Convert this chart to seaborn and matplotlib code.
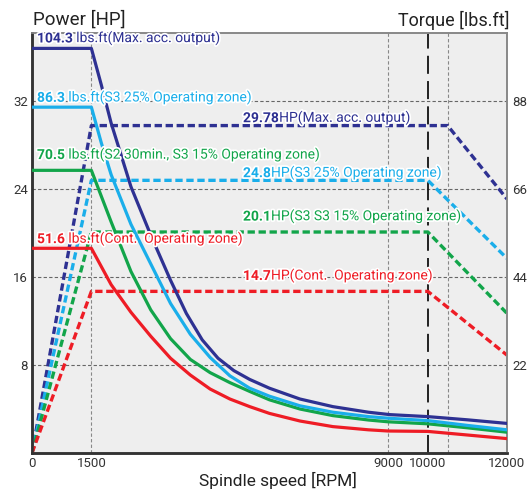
import matplotlib
matplotlib.use("Agg")
import matplotlib.pyplot as plt
import matplotlib.patheffects as pe
import seaborn as sns

# power curves (HP, left axis)
navy_p_rpm = [0, 1500, 10500, 12000]
navy_p = [0, 29.78, 29.78, 23.1]
cyan_p_rpm = [0, 1500, 10000, 12000]
cyan_p = [0, 24.8, 24.8, 17.7]
green_p_rpm = [0, 1500, 10000, 12000]
green_p = [0, 20.1, 20.1, 12.7]
red_p_rpm = [0, 1500, 10000, 12000]
red_p = [0, 14.7, 14.7, 8.9]

# torque curves (lbs.ft, right axis)
navy_t_rpm = [0, 1500, 1750, 2000, 2500, 3000, 3500, 3900, 4300, 4700, 5100, 5500, 6000,
              6770, 7600, 8500, 9040, 10000, 11000, 12000]
navy_t = [101.2, 101.2, 92.1, 82.5, 66.6, 54.5, 43.2, 34.9, 28.3, 23.7, 20.6, 18.4, 16.2,
          13.5, 11.6, 10.2, 9.6, 9.1, 8.3, 7.4]
cyan_t_rpm = [0, 1500, 1750, 2000, 2500, 3000, 3500, 4000, 4500, 5000, 5500, 6000,
              6770, 7600, 8500, 9000, 10000, 11000, 12000]
cyan_t = [86.5, 86.5, 77.6, 69.6, 57.2, 47.3, 37.4, 29.7, 23.9, 19.3, 16.2, 14.2,
          11.8, 10.2, 9.1, 8.7, 8.1, 6.9, 5.8]
green_t_rpm = [0, 1500, 2000, 2500, 3000, 3500, 4000, 4500, 5000, 5500, 6000,
               6770, 7600, 8500, 9000, 10000, 11000, 12000]
green_t = [70.7, 70.7, 57.8, 45.4, 35.8, 28.6, 23.4, 20.1, 17.6, 15.4, 13.3,
           11.0, 9.35, 8.25, 7.8, 7.3, 6.3, 5.2]
red_t_rpm = [0, 1500, 2000, 2500, 3000, 3500, 4000, 4500, 5000, 5500, 6000,
             6770, 7600, 8500, 9000, 10000, 11000, 12000]
red_t = [51.2, 51.2, 42.1, 35.2, 29.2, 23.7, 19.5, 16.0, 13.5, 11.6, 9.9,
         8.0, 6.6, 5.8, 5.5, 5.4, 4.5, 3.6]

x_ticks = [0, 1500, 9000, 10000, 12000]
hp_ticks = [8, 16, 24, 32]
tq_ticks = [22, 44, 66, 88]

NAVY, CYAN, GREEN, RED = "#2E3192", "#1AAEEA", "#12A54A", "#EE1C25"
font = ["Roboto", "DejaVu Sans"]

sns.set_style("white")
plt.rcParams["font.family"] = font

fig = plt.figure(figsize=(5.27, 4.92), dpi=100)
ax = fig.add_axes([32 / 527, 39 / 492, 475 / 527, 420 / 492])
ax.set_facecolor("#EEEEEE")
ax.set_xlim(0, 12000)
ax.set_ylim(0, 38.2)

# grid
for h in hp_ticks:
    ax.axhline(h, color="#666666", lw=0.8, ls=(0, (3, 2)), zorder=1)
for v in [1500, 9000, 10500]:
    ax.axvline(v, color="#888888", lw=0.8, ls=(0, (3, 2)), zorder=1)
ax.axvline(10000, color="#111111", lw=1.3, ls=(0, (10, 4)), zorder=2)

dash = (2.2, 1.1)
for xs, ys, c in [(navy_p_rpm, navy_p, NAVY), (cyan_p_rpm, cyan_p, CYAN),
                  (green_p_rpm, green_p, GREEN), (red_p_rpm, red_p, RED)]:
    sns.lineplot(x=xs, y=ys, ax=ax, color=c, lw=2.4, zorder=4)
    ax.lines[-1].set_dashes(dash)

ax2 = ax.twinx()
ax2.set_ylim(0, 38.2 * 2.75)
for xs, ys, c in [(red_t_rpm, red_t, RED), (green_t_rpm, green_t, GREEN),
                  (cyan_t_rpm, cyan_t, CYAN), (navy_t_rpm, navy_t, NAVY)]:
    sns.lineplot(x=xs, y=ys, ax=ax2, color=c, lw=2.3, zorder=4)

ax.set_xticks(x_ticks)
ax.set_yticks(hp_ticks)
ax2.set_yticks(tq_ticks)
ax.tick_params(length=0, labelsize=9.5, labelcolor="#333333", pad=3)
ax2.tick_params(length=0, labelsize=9.5, labelcolor="#333333", pad=4)
ax.set_xlabel("")
ax.set_ylabel("")
ax2.set_ylabel("")

for a in (ax, ax2):
    a.spines["left"].set_color("#333333")
    a.spines["left"].set_linewidth(1.8)
    a.spines["bottom"].set_color("#333333")
    a.spines["bottom"].set_linewidth(1.8)
    a.spines["top"].set_color("#888888")
    a.spines["top"].set_linewidth(1.2)
    a.spines["right"].set_color("#888888")
    a.spines["right"].set_linewidth(1.2)

halo = [pe.withStroke(linewidth=2.5, foreground="white")]


def label(x, y, num, rest, color):
    t = ax2.text(x, y * 2.75, num, color=color, fontsize=10, fontweight="bold",
                 va="center", ha="left", path_effects=halo, zorder=6)
    ax2.annotate(rest, xy=(1, 0), xycoords=t, va="bottom", ha="left",
                 color=color, fontsize=10, path_effects=halo, zorder=6)


label(126, 37.7, "104.3", " lbs.ft(Max. acc. output)", NAVY)
label(126, 32.3, "86.3", " lbs.ft(S3 25% Operating zone)", CYAN)
label(5330, 30.45, "29.78", "HP(Max. acc. output)", NAVY)
label(126, 27.1, "70.5", " lbs.ft(S2 30min., S3 15% Operating zone)", GREEN)
label(5330, 25.45, "24.8", "HP(S3 25% Operating zone)", CYAN)
label(5330, 21.5, "20.1", "HP(S3 S3 15% Operating zone)", GREEN)
label(126, 19.45, "51.6", " lbs.ft(Cont.  Operating zone)", RED)
label(5330, 16.1, "14.7", "HP(Cont.  Operating zone)", RED)

fig.text(33 / 527, 1 - 20 / 492, "Power [HP]", fontsize=13.5, color="#222222",
         va="center", ha="left")
fig.text(510 / 527, 1 - 20 / 492, "Torque [lbs.ft]", fontsize=13, color="#222222",
         va="center", ha="right")
fig.text(278 / 527, 1 - 480 / 492, "Spindle speed [RPM]", fontsize=12.5, color="#222222",
         va="center", ha="center")

fig.savefig("out.png", dpi=100, facecolor="white")
